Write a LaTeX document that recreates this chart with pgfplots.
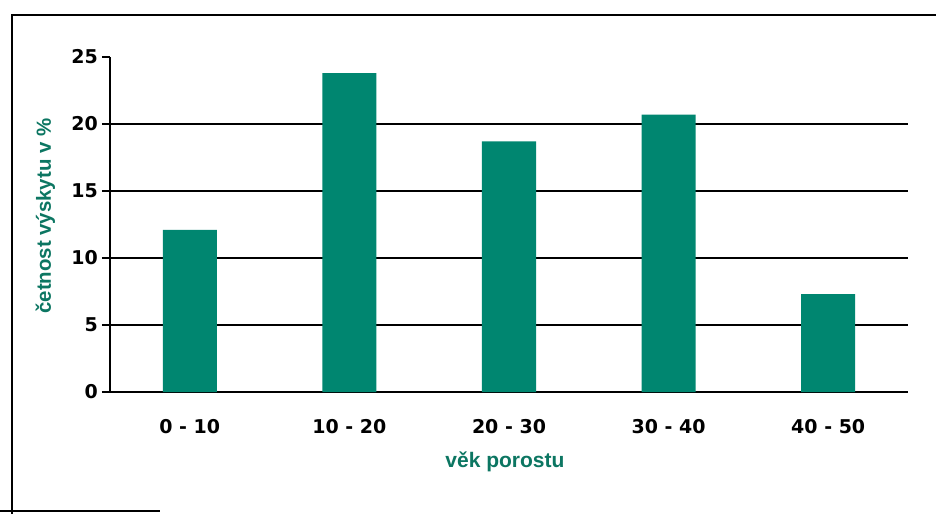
\documentclass[border=0pt]{standalone}
\usepackage{pgfplots}
\pgfplotsset{compat=1.18}
\usepackage{fontspec}
\setmainfont{Liberation Sans}
\newfontfamily\dejavu{DejaVu Sans}
\definecolor{barteal}{RGB}{0,134,112}
\definecolor{labteal}{RGB}{12,118,98}
\begin{document}
\begin{tikzpicture}
\useasboundingbox (-55pt,-61pt) rectangle (413pt,196pt);
\fill[white] (-55pt,-61pt) rectangle (413pt,196pt);
\draw[line width=1pt] (-49pt,-61pt) -- (-49pt,188.5pt) -- (413pt,188.5pt);
\draw[line width=1pt] (-55pt,-59.5pt) -- (25pt,-59.5pt);
\begin{axis}[
  at={(0pt,0pt)}, anchor=south west,
  scale only axis, width=399pt, height=167.5pt,
  xmin=-0.5, xmax=4.5, ymin=0, ymax=25,
  axis x line=bottom, axis y line=left,
  axis line style={-, line width=0.8pt, black},
  ybar, bar width=27pt,
  xtick={0,1,2,3,4},
  xticklabels={0 - 10, 10 - 20, 20 - 30, 30 - 40, 40 - 50},
  x tick style={draw=none},
  ytick={0,5,10,15,20,25},
  y tick style={line width=0.8pt, black},
  tick align=outside, major tick length=4pt,
  extra y ticks={5,10,15,20}, extra y tick labels={},
  extra y tick style={grid=major, major tick length=0pt},
  major grid style={black, line width=0.7pt},
  yticklabel style={font=\dejavu\bfseries\fontsize{9.5}{11}\selectfont, /pgf/number format/assume math mode=true, xshift=1.5pt},
  xticklabel style={font=\dejavu\bfseries\fontsize{9.5}{11}\selectfont, yshift=-6pt},
  xlabel={věk porostu},
  xlabel style={font=\bfseries\fontsize{10.5}{12}\selectfont, text=labteal, at={(axis description cs:0.495,-0.209)}, anchor=center},
  ylabel={četnost výskytu v \%},
  ylabel style={font=\bfseries\fontsize{10.2}{12}\selectfont, text=labteal, at={(axis description cs:-0.081,0.525)}, anchor=center},
]
\addplot[fill=barteal, draw=none] coordinates {(0,12.1) (1,23.8) (2,18.7) (3,20.7) (4,7.3)};
\end{axis}
\end{tikzpicture}
\end{document}
